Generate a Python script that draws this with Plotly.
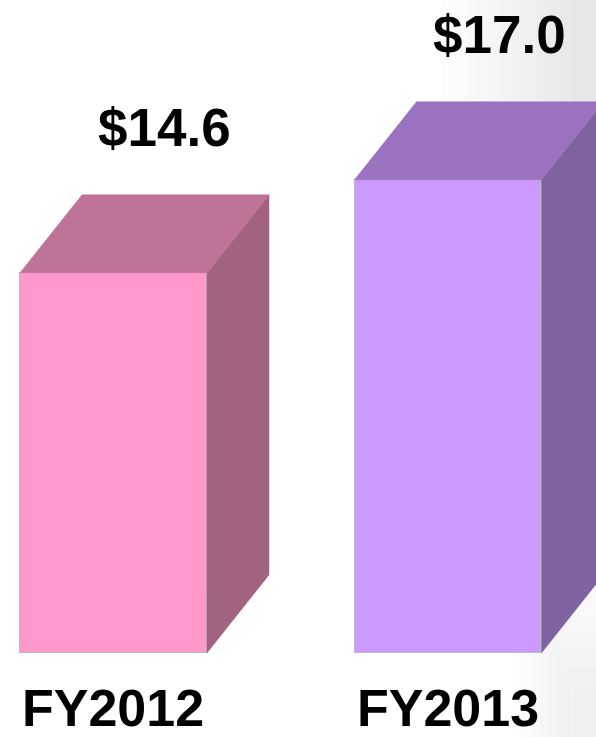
import plotly.graph_objects as go

# ---- data ----
categories = ["FY2012", "FY2013"]
values = [14.6, 17.0]
value_labels = ["$14.6", "$17.0"]

# ---- style ----
front_colors = ["#FF99CC", "#CC99FF"]
top_colors = ["#C07399", "#9B72BF"]
side_colors = ["#A16380", "#7F62A0"]

BASE = 4.79          # axis value at bar bottoms
BAR_W = 0.559        # bar width in x units
DX = 0.1854          # depth offset (x units)
DY = 2.013           # depth offset (y units)
LABEL_DX = 0.153
LABEL_DY = 1.73

xs = list(range(len(categories)))

fig = go.Figure()

# front faces
fig.add_trace(go.Bar(
    x=xs, y=[v - BASE for v in values], base=BASE, width=BAR_W,
    marker=dict(color=front_colors, line=dict(color="#BBBBBB", width=1)),
    hoverinfo="skip", showlegend=False,
))

# top and side faces
for i, v in enumerate(values):
    x0 = xs[i] - BAR_W / 2
    x1 = xs[i] + BAR_W / 2
    fig.add_trace(go.Scatter(
        x=[x1, x1 + DX, x1 + DX, x1, x1],
        y=[BASE, BASE + DY, v + DY, v, BASE],
        fill="toself", fillcolor=side_colors[i], mode="lines",
        line=dict(color=side_colors[i], width=0.5),
        hoverinfo="skip", showlegend=False,
    ))
    fig.add_trace(go.Scatter(
        x=[x0, x1, x1 + DX, x0 + DX, x0],
        y=[v, v, v + DY, v + DY, v],
        fill="toself", fillcolor=top_colors[i], mode="lines",
        line=dict(color=top_colors[i], width=0.5),
        hoverinfo="skip", showlegend=False,
    ))

FONT = dict(family="Liberation Sans, Arial, sans-serif", size=53, color="black")
CAT_FONT = dict(family="Liberation Sans, Arial, sans-serif", size=52, color="black")
annotations = []
for i, v in enumerate(values):
    annotations.append(dict(
        x=xs[i] + LABEL_DX, y=v + DY + LABEL_DY, text="<b>" + value_labels[i] + "</b>",
        showarrow=False, xanchor="center", yanchor="middle", font=FONT,
    ))
    annotations.append(dict(
        x=xs[i], y=0.0393, yref="paper", text="<b>" + categories[i] + "</b>",
        showarrow=False, xanchor="center", yanchor="middle", font=CAT_FONT,
    ))

# subtle gray background wash at right side
shapes = []
for k in range(12):
    shapes.append(dict(
        type="rect", xref="paper", yref="paper",
        x0=0.74 + k * 0.02, x1=1.0, y0=0.62 + k * 0.015, y1=1.0,
        fillcolor="rgba(140,140,140,0.018)", line=dict(width=0), layer="below",
    ))
for k in range(8):
    shapes.append(dict(
        type="rect", xref="paper", yref="paper",
        x0=0.86 + k * 0.015, x1=1.0, y0=0.0, y1=0.24 - k * 0.025,
        fillcolor="rgba(140,140,140,0.015)", line=dict(width=0), layer="below",
    ))

fig.update_layout(
    width=596, height=737,
    margin=dict(l=0, r=0, t=0, b=0),
    paper_bgcolor="white", plot_bgcolor="rgba(0,0,0,0)",
    xaxis=dict(range=[-0.3393, 1.4425], visible=False, fixedrange=True),
    yaxis=dict(range=[2.62, 21.64], visible=False, fixedrange=True),
    annotations=annotations, shapes=shapes,
    bargap=0,
)

fig.write_html(
    "out.html",
    config={"displayModeBar": False},
    post_script="document.body.style.margin='0';document.body.style.overflow='hidden';",
)
